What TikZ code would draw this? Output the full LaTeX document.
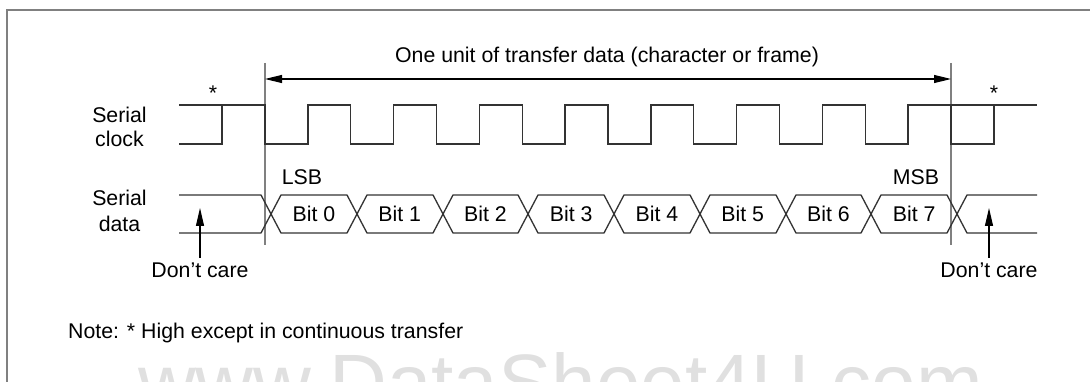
\documentclass[tikz,border=0pt]{standalone}
\usepackage{fontspec}
\setmainfont{Liberation Sans}
\usetikzlibrary{arrows.meta}
\definecolor{sig}{HTML}{333333}
\definecolor{mark}{HTML}{808080}
\definecolor{wm}{HTML}{E0E0E0}
\tikzset{
  lbl/.style={font=\fontsize{21.3pt}{25pt}\selectfont, inner sep=0pt, anchor=base},
  sigline/.style={draw=sig, line width=1.3pt, line join=miter},
  markline/.style={draw=mark, line width=1.4pt},
  framel/.style={draw=mark, line width=1.4pt},
  dimarrow/.style={draw=black, line width=1.1pt, {Triangle[length=17pt,width=8pt]}-{Triangle[length=17pt,width=8pt]}},
  dcarrow/.style={draw=black, line width=1.1pt, -{Triangle[length=18pt,width=8pt]}},
  wmtext/.style={font=\fontsize{80pt}{90pt}\selectfont, text=wm, inner sep=0pt, anchor=base west}
}
\begin{document}
\begin{tikzpicture}[x=1pt,y=-1pt]
\useasboundingbox (0,0) rectangle (1090,382);
% watermark
\node[wmtext] (wmark) at (138,410) {www.DataSheet4U.com};
% frame
\draw[framel] (7,382) -- (7,10) -- (1090,10);
% marker lines
\coordinate (m1t) at (265,63);
\coordinate (m1b) at (265,245);
\coordinate (m2t) at (951,63);
\coordinate (m2b) at (951,245);
\draw[markline] (m1t) -- (m1b);
\draw[markline] (m2t) -- (m2b);
% dimension arrow
\coordinate (a1) at (265,79);
\coordinate (a2) at (951,79);
\draw[dimarrow] (a1) -- (a2);
\node[lbl] (title) at (607,63) {One unit of transfer data (character or frame)};
% labels
\node[lbl] (sc1) at (119.5,123) {Serial};
\node[lbl] (sc2) at (119.5,147) {clock};
\node[lbl] (sd1) at (119.5,206) {Serial};
\node[lbl] (sd2) at (119.5,232) {data};
\node[lbl] (ast1) at (213,101) {*};
\node[lbl] (ast2) at (994,101) {*};
\node[lbl] (lsb) at (302,185) {LSB};
\node[lbl] (msb) at (916,185) {MSB};
% clock
\draw[sigline] (179,105) -- (265,105)
  \foreach \k in {0,...,7} { -- (265+85.75*\k,144) -- (307.875+85.75*\k,144) -- (307.875+85.75*\k,105) -- (351.5+85.75*\k-0.75,105) }
  -- (951,105) -- (951,144) -- (993.9,144) -- (993.9,105) -- (1037,105);
\draw[sigline] (179,144) -- (222,144) -- (222,105);
\draw[sigline] (951,105) -- (993.9,105);
% data
\draw[sigline] (179,195) -- (261,195) -- (281,233) -- (347,233) -- (367,195) -- (433,195) -- (453,233) -- (518,233) -- (538,195) -- (604,195) -- (624,233) -- (690,233) -- (710,195) -- (776,195) -- (796,233) -- (861,233) -- (881,195) -- (947,195) -- (967,233) -- (1037,233);
\draw[sigline] (179,233) -- (261,233) -- (281,195) -- (347,195) -- (367,233) -- (433,233) -- (453,195) -- (518,195) -- (538,233) -- (604,233) -- (624,195) -- (690,195) -- (710,233) -- (776,233) -- (796,195) -- (861,195) -- (881,233) -- (947,233) -- (967,195) -- (1037,195);
\foreach \k/\n in {0/b0,1/b1,2/b2,3/b3,4/b4,5/b5,6/b6,7/b7} {
  \node[lbl] (\n) at (313.875+85.75*\k,222) {Bit \k};
}
% don't care
\node[lbl] (dc1) at (200,277) {Don’t care};
\node[lbl] (dc2) at (989,277) {Don’t care};
\coordinate (dc1t) at (200,208);
\coordinate (dc2t) at (989,208);
\draw[dcarrow] (200,258) -- (dc1t);
\draw[dcarrow] (989,258) -- (dc2t);
% note
\node[lbl, anchor=base west] (note) at (68,338) {Note: * High except in continuous transfer};
\end{tikzpicture}
\end{document}
